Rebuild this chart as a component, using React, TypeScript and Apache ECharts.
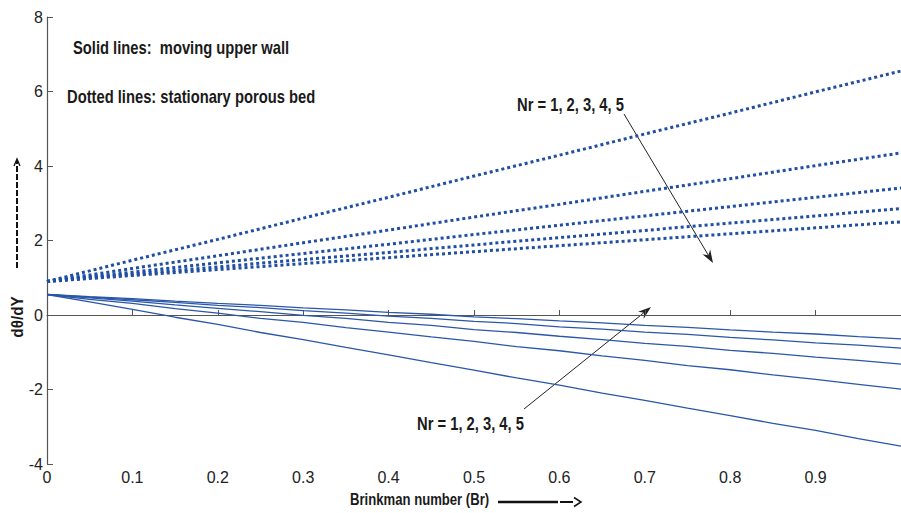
import React, { useEffect, useRef } from "react";
import * as echarts from "echarts";

// Brinkman number sample points
const BR_COARSE = [0, 0.1, 0.2, 0.3, 0.4, 0.5, 0.6, 0.7, 0.8, 0.9, 1.0];
const BR_FINE = [0, 0.05, 0.1, 0.15, 0.2, 0.25, 0.3, 0.35, 0.4, 0.45, 0.5, 0.55, 0.6, 0.65, 0.7, 0.75, 0.8, 0.85, 0.9, 0.95, 1.0];

// Dotted lines: stationary porous bed (Nr = 1..5)
const DOT_1 = [0.9, 1.47, 2.03, 2.6, 3.16, 3.73, 4.29, 4.86, 5.42, 5.99, 6.55];
const DOT_2 = [0.9, 1.25, 1.59, 1.94, 2.28, 2.63, 2.97, 3.32, 3.66, 4.01, 4.35];
const DOT_3 = [0.9, 1.15, 1.4, 1.65, 1.9, 2.16, 2.41, 2.66, 2.91, 3.16, 3.41];
const DOT_4 = [0.9, 1.1, 1.29, 1.49, 1.68, 1.88, 2.08, 2.27, 2.47, 2.66, 2.86];
const DOT_5 = [0.9, 1.06, 1.22, 1.38, 1.54, 1.7, 1.86, 2.02, 2.18, 2.34, 2.5];

// Solid lines: moving upper wall (Nr = 1..5)
const SOLID_1 = [0.55, 0.49, 0.44, 0.37, 0.31, 0.26, 0.19, 0.14, 0.07, 0.02, -0.05, -0.1, -0.16, -0.21, -0.28, -0.33, -0.4, -0.46, -0.51, -0.58, -0.64];
const SOLID_2 = [0.55, 0.48, 0.41, 0.34, 0.26, 0.2, 0.12, 0.05, -0.03, -0.09, -0.17, -0.23, -0.32, -0.38, -0.46, -0.52, -0.6, -0.67, -0.75, -0.81, -0.89];
const SOLID_3 = [0.55, 0.46, 0.37, 0.27, 0.18, 0.09, -0.01, -0.09, -0.2, -0.28, -0.39, -0.47, -0.57, -0.66, -0.76, -0.84, -0.95, -1.03, -1.13, -1.22, -1.32];
const SOLID_4 = [0.55, 0.42, 0.31, 0.17, 0.05, -0.09, -0.2, -0.34, -0.46, -0.59, -0.71, -0.85, -0.96, -1.1, -1.22, -1.36, -1.47, -1.61, -1.73, -1.86, -1.99];
const SOLID_5 = [0.55, 0.35, 0.15, -0.06, -0.25, -0.47, -0.66, -0.87, -1.07, -1.28, -1.48, -1.69, -1.88, -2.1, -2.29, -2.5, -2.7, -2.91, -3.1, -3.32, -3.52];

const DOTTED = [DOT_1, DOT_2, DOT_3, DOT_4, DOT_5];
const SOLID = [SOLID_1, SOLID_2, SOLID_3, SOLID_4, SOLID_5];

const Y_MIN = -4;
const Y_MAX = 8;
const Y_STEP = 2;

const FONT = "'Liberation Sans', Arial, sans-serif";
const BLUE = "#1f4fa3";
const INK = "#1a1a1a";
const NARROW_SCALE = 0.82;

function arrowHead(tx: number, ty: number, fx: number, fy: number) {
  const dx = tx - fx;
  const dy = ty - fy;
  const len = Math.sqrt(dx * dx + dy * dy);
  const ux = dx / len;
  const uy = dy / len;
  const nx = -uy;
  const ny = ux;
  const bx = tx - 13 * ux;
  const by = ty - 13 * uy;
  const mx = tx - 9 * ux;
  const my = ty - 9 * uy;
  return {
    shaft: { x1: fx, y1: fy, x2: mx, y2: my },
    head: [
      [tx, ty],
      [bx + 4.5 * nx, by + 4.5 * ny],
      [mx, my],
      [bx - 4.5 * nx, by - 4.5 * ny],
    ],
  };
}

export default function App() {
  const ref = useRef<HTMLDivElement>(null);

  useEffect(() => {
    if (!ref.current) return;
    const chart = echarts.init(ref.current, undefined, { renderer: "svg" });

    const series: any[] = [];
    DOTTED.forEach((vals, i) => {
      series.push({
        name: "dotted Nr=" + (i + 1),
        type: "line",
        data: BR_COARSE.map((x, j) => [x, vals[j]]),
        showSymbol: false,
        symbol: "none",
        lineStyle: { color: BLUE, width: 3, type: [3, 3] },
        z: 3,
      });
    });
    SOLID.forEach((vals, i) => {
      series.push({
        name: "solid Nr=" + (i + 1),
        type: "line",
        data: BR_FINE.map((x, j) => [x, vals[j]]),
        showSymbol: false,
        symbol: "none",
        lineStyle: { color: "#2a57a8", width: 1.3 },
        z: 3,
      });
    });

    const a1 = arrowHead(713, 263, 624, 114);
    const a2 = arrowHead(651, 307, 524, 409);

    const textEl = (text: string, x: number, y: number, size: number, extra: any = {}) => ({
      type: "text",
      x,
      y,
      scaleX: NARROW_SCALE,
      ...extra,
      style: {
        text,
        font: `bold ${size}px ${FONT}`,
        fill: INK,
        align: extra.align || "left",
        verticalAlign: "middle",
        textAlign: extra.align || "left",
        textVerticalAlign: "middle",
      },
    });

    chart.setOption({
      animation: false,
      grid: { left: 47, right: 0, top: 17, bottom: 49, containLabel: false },
      xAxis: {
        type: "value",
        min: 0,
        max: 1,
        interval: 0.1,
        axisLine: { show: true, lineStyle: { color: "#555", width: 1.2 } },
        axisTick: { show: true, inside: true, length: 5, lineStyle: { color: "#555" } },
        axisLabel: {
          showMaxLabel: false,
          margin: 5,
          color: "#222",
          fontSize: 16,
          fontFamily: FONT,
          formatter: (v: number) => (Math.round(v * 10) / 10).toString(),
        },
        splitLine: { show: false },
      },
      yAxis: {
        type: "value",
        min: Y_MIN,
        max: Y_MAX,
        interval: Y_STEP,
        axisLine: { show: true, lineStyle: { color: "#555", width: 1.2 } },
        axisTick: { show: true, inside: true, length: 6, lineStyle: { color: "#555" } },
        axisLabel: { margin: 4, color: "#222", fontSize: 16, fontFamily: FONT },
        splitLine: { show: false },
      },
      series,
      graphic: [
        textEl("Solid lines:  moving upper wall", 73, 47, 18),
        textEl("Dotted lines: stationary porous bed", 67, 96, 18),
        textEl("Nr = 1, 2, 3, 4, 5", 517, 104, 18),
        textEl("Nr = 1, 2, 3, 4, 5", 417, 423, 18),
        textEl("Brinkman number (Br)", 350, 500, 16),
        textEl("dθ/dY", 17, 317, 17, { rotation: Math.PI / 2, align: "center", scaleX: 0.9 }),
        // annotation arrows
        { type: "line", shape: a1.shaft, style: { stroke: "#222", lineWidth: 1 } },
        { type: "polygon", shape: { points: a1.head }, style: { fill: "#222" } },
        { type: "line", shape: a2.shaft, style: { stroke: "#222", lineWidth: 1 } },
        { type: "polygon", shape: { points: a2.head }, style: { fill: "#222" } },
        // y-axis name arrow
        { type: "line", shape: { x1: 17, y1: 268, x2: 17, y2: 161 }, style: { stroke: "#111", lineWidth: 2, lineDash: [6, 2] } },
        { type: "polyline", shape: { points: [[14, 166], [17, 159], [20, 166]] }, style: { stroke: "#111", lineWidth: 1.3, fill: "none" } },
        // x-axis name arrow
        { type: "line", shape: { x1: 498, y1: 502, x2: 558, y2: 502 }, style: { stroke: "#111", lineWidth: 2.5 } },
        { type: "line", shape: { x1: 560, y1: 502, x2: 573, y2: 502 }, style: { stroke: "#111", lineWidth: 2 } },
        { type: "polyline", shape: { points: [[574, 497.5], [581, 502], [574, 506.5]] }, style: { stroke: "#111", lineWidth: 1.5, fill: "none" } },
      ],
    });

    return () => chart.dispose();
  }, []);

  return (
    <div
      ref={ref}
      style={{ position: "fixed", left: 0, top: 0, width: 901, height: 513, background: "#fff" }}
    />
  );
}
